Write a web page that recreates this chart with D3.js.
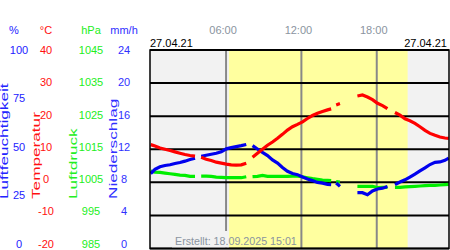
<!DOCTYPE html>
<html>
<head>
<meta charset="utf-8">
<script src="https://cdn.jsdelivr.net/npm/d3@7"></script>
<style>
  html, body { margin: 0; padding: 0; background: #fff; }
  svg { display: block; font-family: "Liberation Sans", Arial, sans-serif; }
</style>
</head>
<body>
<div id="chart"></div>
<script>
// hours of the day (null values mark missing readings)
const hours = [0, 0.34, 0.74, 1.14, 1.54, 1.93, 2.33, 2.73, 3.13, 3.53, 3.8,
  4.02, 4.42, 4.82, 5.22, 5.62, 6.02, 6.41, 6.81, 7.21, 7.61, 7.9,
  8.11, 8.5, 8.9, 9.3, 9.7, 10.1, 10.49, 10.89, 11.29, 11.69, 12.09, 12.48,
  12.88, 13.28, 13.68, 14.08, 14.37, 14.55, 14.77, 15.07, 15.8,
  16.46, 16.86, 17.26, 17.66, 18.06, 18.46, 18.85, 19.1,
  19.45, 19.85, 20.25, 20.64, 21.04, 21.44, 21.84, 22.24, 22.64, 23.03, 23.43, 23.73];
const temperature = [11.4, 11.0, 10.4, 10.0, 9.6, 9.2, 8.8, 8.4, 8.1, 7.9, null,
  7.6, 7.0, 6.6, 6.1, 5.8, 5.5, 5.3, 5.2, 5.3, 5.8, null,
  7.6, 8.8, 10.0, 11.2, 12.2, 13.3, 14.5, 15.8, 16.8, 17.5, 18.3, 19.3,
  20.2, 20.9, 21.4, 21.9, 22.2, null, 23.4, 23.8, null,
  26.1, 26.4, 25.8, 25.0, 23.9, 23.2, 22.3, null,
  21.1, 20.3, 19.2, 18.6, 17.8, 16.8, 15.7, 14.8, 14.2, 13.7, 13.4, 13.3];
const humidity = [37.7, 39.9, 41.2, 41.8, 42.2, 42.8, 43.3, 44.0, 44.8, 45.5, null,
  46.5, 47.0, 47.5, 48.0, 48.7, 50.2, 50.8, 51.3, 51.8, 52.4, null,
  51.8, 50.1, 48.4, 46.8, 44.6, 43.0, 40.8, 38.9, 37.8, 37.2, 36.0, 35.0,
  34.2, 33.3, 32.9, 32.3, 32.2, null, 33.0, 31.3, null,
  28.1, 28.1, 27.1, 29.0, 30.0, 30.4, 31.2, null,
  32.2, 33.5, 34.6, 36.0, 37.5, 39.1, 40.6, 42.3, 43.4, 43.6, 44.4, 45.5];
const pressure = [1008.4, 1008.1, 1008.0, 1007.8, 1007.6, 1007.4, 1007.2, 1007.1, 1006.8, 1006.8, null,
  1006.9, 1006.9, 1006.8, 1006.6, 1006.5, 1006.4, 1006.4, 1006.4, 1006.4, 1006.7, null,
  1006.7, 1006.8, 1007.1, 1006.8, 1006.8, 1006.8, 1006.8, 1006.8, 1006.9, 1006.9, 1006.7, 1006.4,
  1006.1, 1005.9, 1005.7, 1005.6, 1005.5, null, 1005.2, 1005.1, null,
  1003.8, 1003.8, 1003.8, 1003.8, 1003.4, 1003.5, 1003.5, null,
  1003.5, 1003.5, 1003.6, 1003.7, 1003.8, 1003.9, 1004.0, 1004.1, 1004.1, 1004.2, 1004.3, 1004.4];

const daylight = [6.23, 20.46];
const timeTicks = [6, 12, 18];
const timeLabels = ["06:00", "12:00", "18:00"];
const humTicks = [0, 25, 50, 75, 100];
const tempTicks = [-20, -10, 0, 10, 20, 30, 40];
const presTicks = [985, 995, 1005, 1015, 1025, 1035, 1045];
const rainTicks = [0, 4, 8, 12, 16, 20, 24];
const dateLabel = "27.04.21";
const createdLabel = "Erstellt: 18.09.2025 15:01";

const W = 450, H = 250;
const plot = { l: 150, r: 449, t: 50, b: 248.5 };
// tick labels sit a little higher than the grid towards the bottom
const labelRange = [243.5, 50];

const svg = d3.select("#chart").append("svg")
  .attr("width", W).attr("height", H)
  .attr("viewBox", [0, 0, W, H]);

const x = d3.scaleLinear().domain([0, 24]).range([150.7, 452.1]);
const yRain = d3.scaleLinear().domain([0, 24]).range([plot.b, plot.t]);
const yTemp = d3.scaleLinear().domain([-20, 40]).range([plot.b, plot.t]);
const yPres = d3.scaleLinear().domain([985, 1045]).range([plot.b, plot.t]);
const yHum = d3.scaleLinear().domain([0, 100]).range([plot.b, plot.t]);

svg.append("clipPath").attr("id", "plot-clip")
  .append("rect")
  .attr("x", plot.l).attr("y", plot.t)
  .attr("width", plot.r - plot.l).attr("height", plot.b - plot.t);

// background, night / day
svg.append("rect")
  .attr("x", plot.l).attr("y", plot.t)
  .attr("width", plot.r - plot.l).attr("height", plot.b - plot.t)
  .attr("fill", "#f2f2f2");
svg.append("rect")
  .attr("x", x(daylight[0])).attr("y", plot.t)
  .attr("width", x(daylight[1]) - x(daylight[0])).attr("height", plot.b - plot.t)
  .attr("fill", "#ffff9f");

// vertical hour lines
svg.append("g").selectAll("line").data(timeTicks).join("line")
  .attr("x1", d => x(d)).attr("x2", d => x(d))
  .attr("y1", plot.t).attr("y2", plot.b)
  .attr("stroke", "#888").attr("stroke-width", 2);

// horizontal grid
svg.append("g").selectAll("line").data(rainTicks).join("line")
  .attr("x1", plot.l).attr("x2", plot.r)
  .attr("y1", d => yRain(d)).attr("y2", d => yRain(d))
  .attr("stroke", "#000").attr("stroke-width", 2);

// created label, its box hides the hour line in the night part
const createdX = 175;
svg.append("rect")
  .attr("x", createdX - 3).attr("y", 231)
  .attr("width", x(daylight[0]) - createdX + 3).attr("height", plot.b - 231 - 1)
  .attr("fill", "#f2f2f2");
svg.append("text")
  .attr("x", createdX).attr("y", 245)
  .attr("font-size", 10.7).attr("fill", "#8a94a0")
  .text(createdLabel);

// series
const series = [
  { values: pressure, y: yPres, color: "#00ee00" },
  { values: humidity, y: yHum, color: "#0000ee" },
  { values: temperature, y: yTemp, color: "#ff0000" },
];
const content = svg.append("g").attr("clip-path", "url(#plot-clip)");
series.forEach(s => {
  const line = d3.line()
    .defined(i => s.values[i] != null)
    .x(i => x(hours[i]))
    .y(i => s.y(s.values[i]));
  content.append("path")
    .attr("d", line(d3.range(hours.length)))
    .attr("fill", "none")
    .attr("stroke", s.color)
    .attr("stroke-width", 3.2);
});

// border
svg.append("rect")
  .attr("x", plot.l).attr("y", plot.t)
  .attr("width", plot.r - plot.l).attr("height", plot.b - plot.t)
  .attr("fill", "none").attr("stroke", "#000").attr("stroke-width", 1.5);

// time labels and dates
svg.append("g").selectAll("text").data(timeTicks).join("text")
  .attr("x", d => x(d) - 3).attr("y", 34)
  .attr("text-anchor", "middle")
  .attr("font-size", 11).attr("fill", "#8a94a0")
  .text((d, i) => timeLabels[i]);
svg.append("text").attr("x", 150).attr("y", 47)
  .attr("font-size", 11).attr("fill", "#000").text(dateLabel);
svg.append("text").attr("x", 447).attr("y", 47).attr("text-anchor", "end")
  .attr("font-size", 11).attr("fill", "#000").text(dateLabel);

// value axes on the left
const axes = [
  { scale: yHum, ticks: humTicks, cx: 19, color: "#2222ff", unit: "%", name: "Luftfeuchtigkeit", nx: 8 },
  { scale: yTemp, ticks: tempTicks, cx: 46, color: "#ff1010", unit: "°C", name: "Temperatur", nx: 40 },
  { scale: yPres, ticks: presTicks, cx: 91, color: "#22ee22", unit: "hPa", name: "Luftdruck", nx: 77 },
  { scale: yRain, ticks: rainTicks, cx: 124, color: "#3030ff", unit: "mm/h", name: "Niederschlag", nx: 117 },
];
axes.forEach(a => {
  const labelScale = a.scale.copy().range(labelRange);
  const g = svg.append("g")
    .attr("transform", `translate(${a.cx},0)`)
    .call(d3.axisLeft(labelScale).tickValues(a.ticks).tickFormat(d => String(d))
      .tickSize(0).tickPadding(0))
    .call(g => g.select(".domain").remove());
  g.selectAll("text")
    .attr("x", 0)
    .attr("text-anchor", "middle")
    .attr("font-family", "Liberation Sans, Arial, sans-serif")
    .attr("font-size", 11)
    .attr("fill", a.color);
  svg.append("text")
    .attr("x", a.cx - (a.unit === "%" ? 5 : 0)).attr("y", 34)
    .attr("text-anchor", "middle")
    .attr("font-size", 11).attr("fill", a.color)
    .text(a.unit);
  svg.append("text")
    .attr("transform", `translate(${a.nx},199) rotate(-90) scale(1.72,1)`)
    .attr("font-size", 10).attr("fill", a.color)
    .text(a.name);
});
</script>
</body>
</html>
